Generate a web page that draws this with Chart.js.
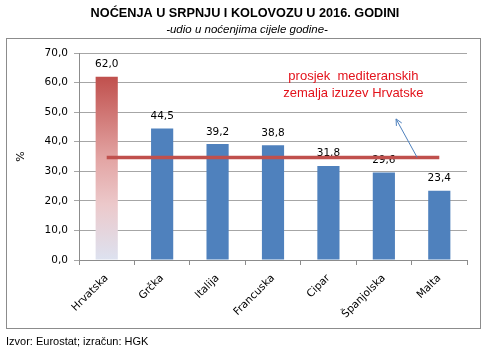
<!DOCTYPE html>
<html>
<head>
<meta charset="utf-8">
<script src="https://cdn.jsdelivr.net/npm/chart.js"></script>
<style>
  html, body { margin: 0; padding: 0; background: #fff; }
  #wrap { width: 487px; height: 353px; }
</style>
</head>
<body>
<div id="wrap"><canvas id="chart" width="487" height="353"></canvas></div>
<script>
// chart data
const categories = ['Hrvatska', 'Grčka', 'Italija', 'Francuska', 'Cipar', 'Španjolska', 'Malta'];
const shares = [62.0, 44.5, 39.2, 38.8, 31.8, 29.6, 23.4];
const mediterraneanAvg = [34.7, 34.7, 34.7, 34.7, 34.7, 34.7, 34.7];
const yTicks = [0, 10, 20, 30, 40, 50, 60, 70];

const fmt = v => v.toFixed(1).replace('.', ',');

const BLUE = '#4f81bd';
const RED = '#c0504d';

function barColor(ctx) {
    if (ctx.dataIndex !== 0) return BLUE;
    const chart = ctx.chart;
    const y = chart.scales.y;
    if (!y) return RED;
    const top = y.getPixelForValue(shares[0]);
    const bottom = y.getPixelForValue(0);
    if (!isFinite(top) || !isFinite(bottom)) return RED;
    const g = chart.ctx.createLinearGradient(0, top, 0, bottom);
    g.addColorStop(0, '#c0504d');
    g.addColorStop(0.45, '#e3a5a4');
    g.addColorStop(0.7, '#ecc9cb');
    g.addColorStop(1, '#dde2f0');
    return g;
}

// frame, titles, notes
const decorations = {
    id: 'decorations',
    beforeDraw(chart) {
        const c = chart.ctx;
        c.save();
        c.fillStyle = '#fff';
        c.fillRect(0, 0, chart.width, chart.height);
        c.strokeStyle = '#8c8c8c';
        c.lineWidth = 1;
        c.strokeRect(6.5, 38.5, 474, 290);
        c.restore();
    },
    afterDatasetDraw(chart, args) {
        if (args.index !== 0) return;
        const c = chart.ctx;
        c.save();
        c.font = '10.5px "DejaVu Sans"';
        c.fillStyle = '#000';
        c.textAlign = 'center';
        c.textBaseline = 'bottom';
        args.meta.data.forEach((bar, i) => {
            c.fillText(fmt(shares[i]), bar.x, bar.y - 7);
        });
        c.restore();
    },
    afterDraw(chart) {
        const c = chart.ctx;
        const xs = chart.scales.x, ys = chart.scales.y;
        c.save();
        c.fillStyle = '#000';
        c.textAlign = 'center';
        c.textBaseline = 'middle';
        c.font = 'bold 12.7px "Liberation Sans"';
        c.fillText('NOĆENJA U SRPNJU I KOLOVOZU U 2016. GODINI', 245, 13);
        c.font = 'italic 11.5px "Liberation Sans"';
        c.fillText('-udio u noćenjima cijele godine-', 247, 30);

        // y axis title
        c.save();
        c.translate(21, (ys.top + ys.bottom) / 2);
        c.rotate(-Math.PI / 2);
        c.font = '11px "DejaVu Sans"';
        c.fillText('%', 0, 0);
        c.restore();

        // footer
        c.textAlign = 'left';
        c.font = '11px "Liberation Sans"';
        c.fillText('Izvor: Eurostat; izračun: HGK', 6, 342);

        // annotation
        c.textAlign = 'center';
        c.fillStyle = '#e3121b';
        c.font = '13px "Liberation Sans"';
        const ax = xs.getPixelForValue(4.45);
        c.fillText('prosjek  mediteranskih', ax, ys.getPixelForValue(62.2));
        c.fillText('zemalja izuzev Hrvatske', ax, ys.getPixelForValue(56.2));

        // arrow
        const x1 = xs.getPixelForValue(5.6), y1 = ys.getPixelForValue(34.7);
        const x2 = xs.getPixelForValue(5.22), y2 = ys.getPixelForValue(47.7);
        c.strokeStyle = '#4f81bd';
        c.lineWidth = 1;
        c.beginPath();
        c.moveTo(x1, y1);
        c.lineTo(x2, y2);
        const ang = Math.atan2(y2 - y1, x2 - x1);
        c.moveTo(x2 - 7 * Math.cos(ang - 0.45), y2 - 7 * Math.sin(ang - 0.45));
        c.lineTo(x2, y2);
        c.lineTo(x2 - 7 * Math.cos(ang + 0.45), y2 - 7 * Math.sin(ang + 0.45));
        c.stroke();
        c.restore();
    }
};

new Chart(document.getElementById('chart'), {
    type: 'bar',
    data: {
        labels: categories,
        datasets: [
            {
                label: 'Udio',
                data: shares,
                backgroundColor: barColor,
                borderWidth: 0,
                barPercentage: 0.8,
                categoryPercentage: 0.5,
                order: 2
            },
            {
                type: 'line',
                label: 'Prosjek',
                data: mediterraneanAvg,
                borderColor: RED,
                borderWidth: 3.5,
                pointRadius: 0,
                fill: false,
                order: 1
            }
        ]
    },
    options: {
        responsive: false,
        animation: false,
        layout: { padding: { top: 53, left: 7, right: 20, bottom: 20 } },
        plugins: {
            legend: { display: false },
            tooltip: { enabled: false }
        },
        scales: {
            x: {
                grid: { display: true, drawOnChartArea: false, tickLength: 5, color: '#8c8c8c', offset: true },
                border: { color: '#8c8c8c' },
                ticks: {
                    minRotation: 45, maxRotation: 45, autoSkip: false,
                    color: '#000', font: { family: 'DejaVu Sans', size: 10.5 }, padding: 7
                },
                afterFit(scale) { scale.height = 73; }
            },
            y: {
                min: 0, max: 70,
                afterBuildTicks(scale) { scale.ticks = yTicks.map(v => ({ value: v })); },
                grid: { color: '#a6a6a6', tickLength: 5 },
                border: { color: '#8c8c8c' },
                ticks: {
                    color: '#000', font: { family: 'DejaVu Sans', size: 10.5 }, padding: 6,
                    callback: v => fmt(v)
                },
                afterFit(scale) { scale.width = 72; }
            }
        }
    },
    plugins: [decorations]
});
</script>
</body>
</html>
